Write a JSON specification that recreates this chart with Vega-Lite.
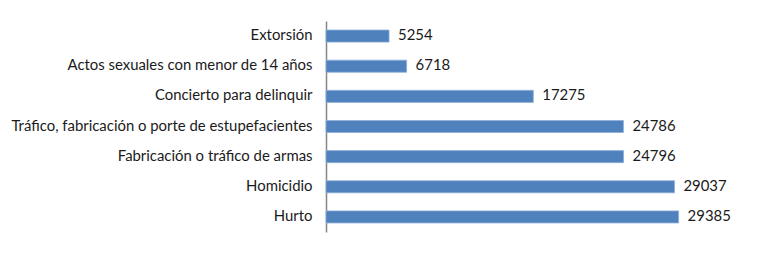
{
  "$schema": "https://vega.github.io/schema/vega-lite/v6.json",
  "width": 420,
  "height": 211,
  "autosize": {"type": "none"},
  "padding": {"left": 326, "top": 21, "right": 25, "bottom": 22},
  "background": "white",
  "config": {
    "view": {"stroke": null},
    "font": "Lato"
  },
  "data": {
    "values": [
      {"delito": "Extorsión", "casos": 5254},
      {"delito": "Actos sexuales con menor de 14 años", "casos": 6718},
      {"delito": "Concierto para delinquir", "casos": 17275},
      {"delito": "Tráfico, fabricación o porte de estupefacientes", "casos": 24786},
      {"delito": "Fabricación o tráfico de armas", "casos": 24796},
      {"delito": "Homicidio", "casos": 29037},
      {"delito": "Hurto", "casos": 29385}
    ]
  },
  "encoding": {
    "y": {
      "field": "delito",
      "type": "nominal",
      "sort": null,
      "scale": {"paddingInner": 0.6, "paddingOuter": 0.3},
      "axis": {
        "title": null,
        "ticks": false,
        "domainColor": "#868686",
        "domainWidth": 1.5,
        "labelFontSize": 14.9,
        "labelColor": "#1a1a1a",
        "labelPadding": 14,
        "labelLimit": 400
      }
    },
    "x": {
      "field": "casos",
      "type": "quantitative",
      "scale": {"domain": [0, 35000], "nice": false},
      "axis": null
    }
  },
  "layer": [
    {
      "mark": {"type": "bar", "color": "#4F81BD", "stroke": "#8EAFD8", "strokeWidth": 0.8}
    },
    {
      "mark": {"type": "text", "align": "left", "dx": 9, "fontSize": 14.9, "color": "#1a1a1a"},
      "encoding": {"text": {"field": "casos", "type": "quantitative", "format": "d"}}
    }
  ]
}
